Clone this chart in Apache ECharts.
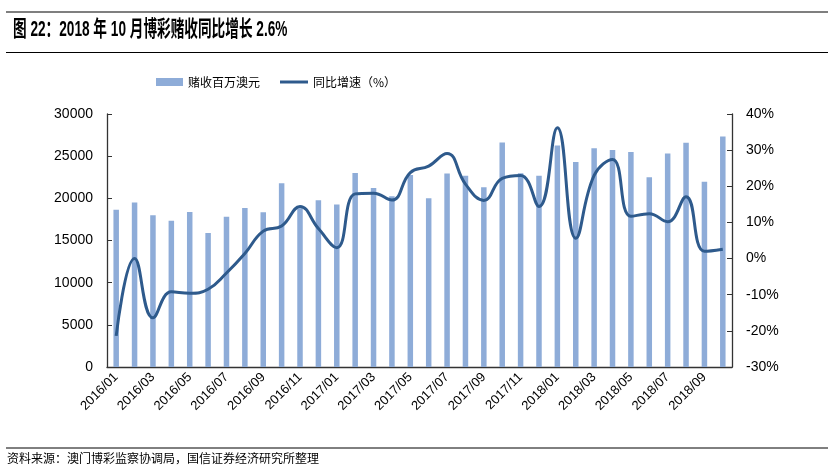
<!DOCTYPE html>
<html><head><meta charset="utf-8">
<script src="https://cdn.jsdelivr.net/npm/echarts@6/dist/echarts.min.js"></script>
<style>html,body{margin:0;padding:0;background:#fff}#c{width:833px;height:475px}</style>
</head><body><div id="c"></div>
<script>
const categories = ['2016/01','2016/02','2016/03','2016/04','2016/05','2016/06','2016/07','2016/08','2016/09','2016/10','2016/11','2016/12',
'2017/01','2017/02','2017/03','2017/04','2017/05','2017/06','2017/07','2017/08','2017/09','2017/10','2017/11','2017/12',
'2018/01','2018/02','2018/03','2018/04','2018/05','2018/06','2018/07','2018/08','2018/09','2018/10'];
const revenue = [18650,19520,17980,17340,18390,15880,17820,18840,18350,21780,18830,19770,
19260,22990,21240,20240,22760,20000,22950,22690,21310,26630,22960,22670,
26260,24300,25950,25730,25490,22490,25330,26600,21960,27330];
const growth = [-21.4,0.0,-16.4,-9.2,-9.6,-8.5,-4.0,1.4,7.6,9.0,14.4,8.3,
3.0,17.9,18.1,16.2,23.8,25.6,29.1,20.6,16.1,22.2,23.0,14.4,
36.2,5.6,23.0,27.4,11.7,12.4,10.2,17.1,2.0,2.6];
const leftTicks = {min:0,max:30000,interval:5000};
const rightTicks = {min:-30,max:40,interval:10};
const barName = '赌收百万澳元', lineName = '同比增速（%）';

const chart = echarts.init(document.getElementById('c'));
const axisFont = {fontFamily:'Liberation Sans, Arial', fontSize:14, color:'#000'};
const legendText = {fontFamily:'Noto Sans CJK SC',fontSize:12,color:'#000'};
chart.setOption({
  animation:false,
  grid:{left:107,right:101,top:114,bottom:108},
  legend:[
    {left:151,top:71,itemWidth:27,itemHeight:8,itemGap:4,textStyle:legendText,
     data:[{name:barName,icon:'rect'}]},
    {left:275,top:71,itemWidth:28,itemHeight:3,itemGap:4,textStyle:legendText,
     data:[{name:lineName,icon:'rect',itemStyle:{color:'#2E5A8C'}}]}
  ],
  graphic:[
    {type:'line',shape:{x1:6,y1:12,x2:828,y2:12},style:{stroke:'#000',lineWidth:1.2}},
    {type:'line',shape:{x1:6,y1:52.5,x2:828,y2:52.5},style:{stroke:'#000',lineWidth:1.2}},
    {type:'line',shape:{x1:6,y1:448,x2:828,y2:448},style:{stroke:'#000',lineWidth:1}},
    {type:'text',x:13,y:19,scaleX:0.62,scaleY:1,style:{text:'图 22：2018 年 10 月博彩赌收同比增长 2.6%',
      font:'bold 22px "Liberation Sans", "Noto Sans CJK SC"',fill:'#000'}},
    {type:'text',left:7,top:452,style:{text:'资料来源：澳门博彩监察协调局，国信证券经济研究所整理',
      font:'12px "Noto Sans CJK SC"',fill:'#000'}}
  ],
  xAxis:{type:'category',data:categories,
    axisLine:{lineStyle:{color:'#333',width:1.3}},axisTick:{show:false},
    axisLabel:{interval:1,rotate:45,fontFamily:'Liberation Sans, Arial',fontSize:13,color:'#000',margin:8}},
  yAxis:[
    {type:'value',min:leftTicks.min,max:leftTicks.max,interval:leftTicks.interval,
     axisLine:{show:true,lineStyle:{color:'#333',width:1.3}},axisTick:{show:true,inside:true,length:5,lineStyle:{color:'#333'}},
     splitLine:{show:false},axisLabel:Object.assign({margin:14,formatter:function(v){return String(v);}},axisFont)},
    {type:'value',min:rightTicks.min,max:rightTicks.max,interval:rightTicks.interval,position:'right',
     axisLine:{show:true,lineStyle:{color:'#333',width:1.3}},axisTick:{show:true,inside:true,length:5,lineStyle:{color:'#333'}},
     splitLine:{show:false},axisLabel:Object.assign({margin:14,formatter:'{value}%'},axisFont)}
  ],
  series:[
    {name:barName,type:'bar',data:revenue,barWidth:5.5,itemStyle:{color:'#8EACD8'},yAxisIndex:0},
    {name:lineName,type:'line',data:growth,yAxisIndex:1,smooth:0.45,symbol:'none',
     lineStyle:{color:'#2E5A8C',width:3},itemStyle:{color:'#2E5A8C'}}
  ]
});
</script></body></html>
